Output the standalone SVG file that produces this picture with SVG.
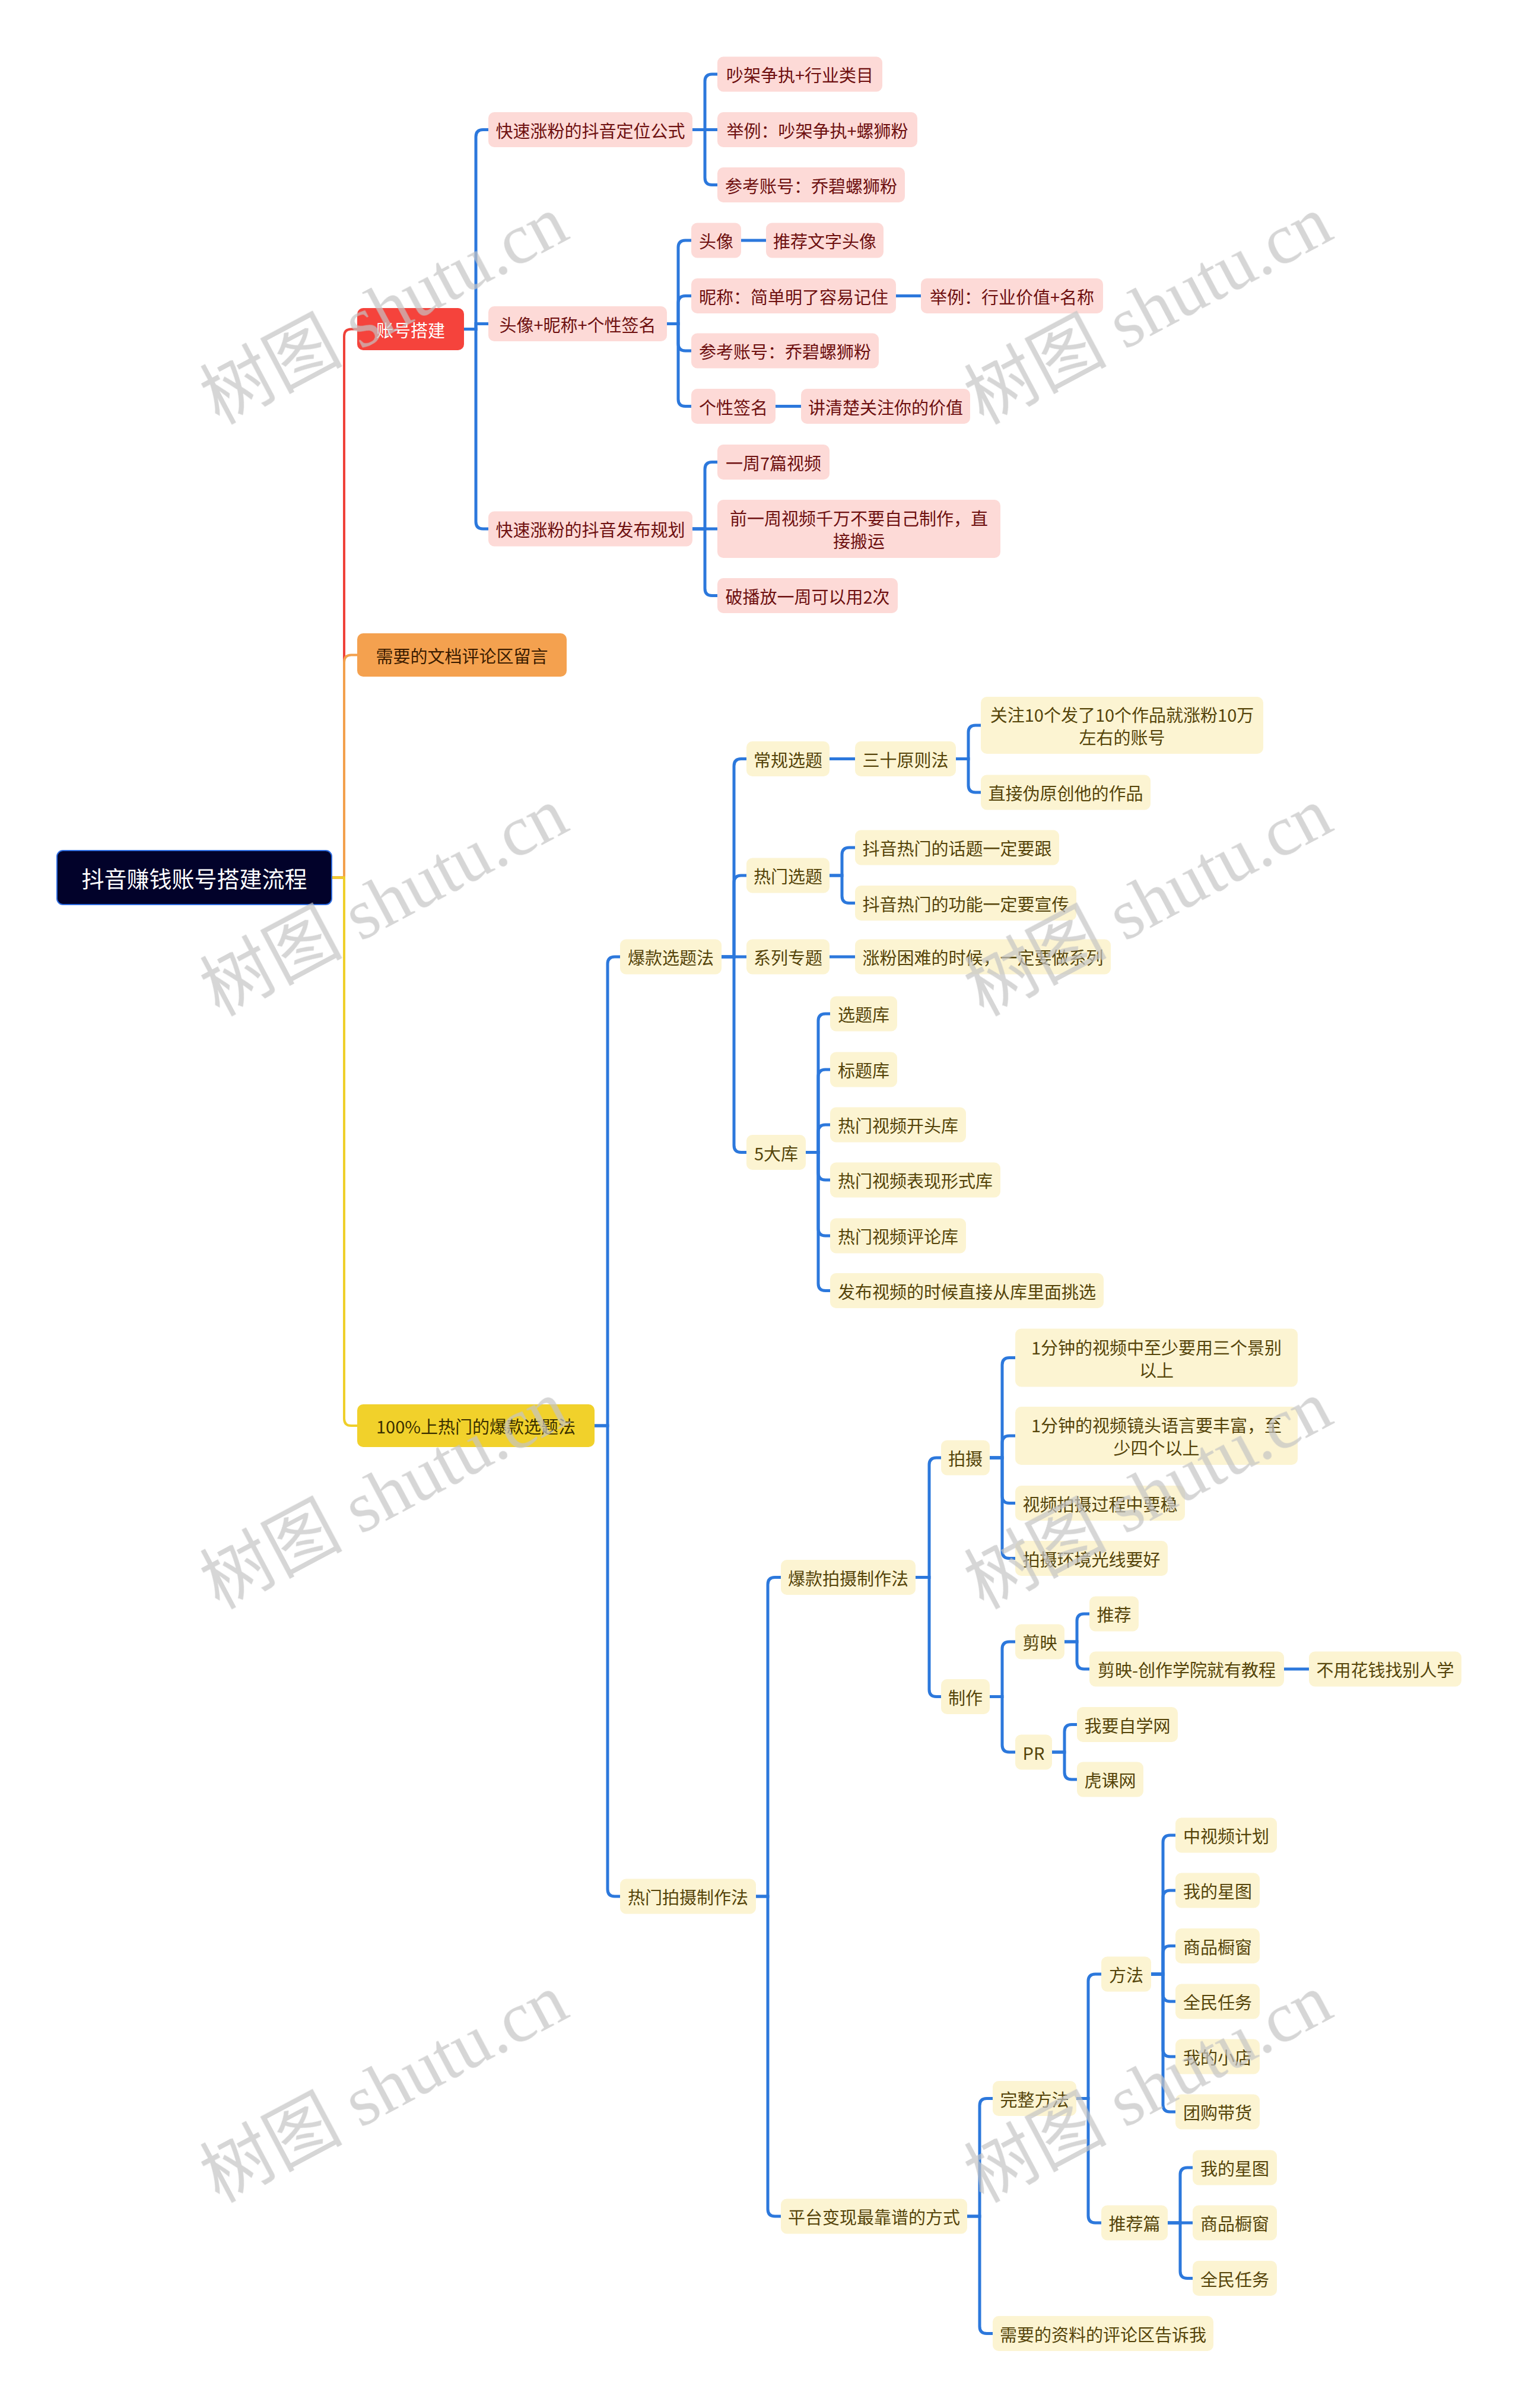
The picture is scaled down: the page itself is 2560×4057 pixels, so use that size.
<svg xmlns="http://www.w3.org/2000/svg" width="2560" height="4057" viewBox="0 0 2560 4057">
<style>
text{font-family:"Noto Sans CJK SC","Noto Sans",sans-serif;font-size:29px;text-anchor:middle;dominant-baseline:central}
.pk rect{fill:#fddad7}
.pk text{fill:#6e1010}
.yl rect{fill:#fcf4d2}
.yl text{fill:#55440a}
.ln path{fill:none;stroke:#2c78dc;stroke-width:5}
.tr{fill:none;stroke-width:4}
.wm{font-family:"Liberation Serif","Noto Sans CJK SC",serif;font-size:120px;fill:#c4c4c4;text-anchor:middle;dominant-baseline:central}
</style>
<rect width="2560" height="4057" fill="#ffffff"/>
<g id="connectors">
<path class="tr" stroke="#ef4139" d="M559 1478.5 H580 V566.5 Q580 554.5 592 554.5 H602"/>
<path class="tr" stroke="#f3a04c" d="M559 1478.5 H580 V1115.5 Q580 1103.5 592 1103.5 H602"/>
<path class="tr" stroke="#efcf2a" d="M559 1478.5 H580 V2390 Q580 2402 592 2402 H602"/>
<g class="ln">
<path d="M782 554.5 H802 V230.5 Q802 218.5 814 218.5 H823"/>
<path d="M782 554.5 H802 V545.5 H823"/>
<path d="M782 554.5 H802 V879 Q802 891 814 891 H823"/>
<path d="M1167 218.5 H1188 V137 Q1188 125 1200 125 H1209"/>
<path d="M1167 218.5 H1209"/>
<path d="M1167 218.5 H1188 V299.5 Q1188 311.5 1200 311.5 H1209"/>
<path d="M1124 545.5 H1143 V417 Q1143 405 1155 405 H1165"/>
<path d="M1124 545.5 H1143 V510.5 Q1143 498.5 1155 498.5 H1165"/>
<path d="M1124 545.5 H1143 V579 Q1143 591 1155 591 H1165"/>
<path d="M1124 545.5 H1143 V672.5 Q1143 684.5 1155 684.5 H1165"/>
<path d="M1249 405 H1291"/>
<path d="M1510 498.5 H1552"/>
<path d="M1307 684.5 H1350"/>
<path d="M1167 891 H1188 V790.5 Q1188 778.5 1200 778.5 H1209"/>
<path d="M1167 891 H1209"/>
<path d="M1167 891 H1188 V991.5 Q1188 1003.5 1200 1003.5 H1209"/>
<path d="M1002 2402 H1024 V1624 Q1024 1612 1036 1612 H1045"/>
<path d="M1002 2402 H1024 V3183 Q1024 3195 1036 3195 H1045"/>
<path d="M1216 1612 H1237 V1290.5 Q1237 1278.5 1249 1278.5 H1258"/>
<path d="M1216 1612 H1237 V1487 Q1237 1475 1249 1475 H1258"/>
<path d="M1216 1612 H1258"/>
<path d="M1216 1612 H1237 V1929.5 Q1237 1941.5 1249 1941.5 H1258"/>
<path d="M1398 1278.5 H1441"/>
<path d="M1611 1278.5 H1632 V1234 Q1632 1222 1644 1222 H1653"/>
<path d="M1611 1278.5 H1632 V1323 Q1632 1335 1644 1335 H1653"/>
<path d="M1398 1475 H1419 V1440 Q1419 1428 1431 1428 H1441"/>
<path d="M1398 1475 H1419 V1509.5 Q1419 1521.5 1431 1521.5 H1441"/>
<path d="M1398 1612 H1441"/>
<path d="M1358 1941.5 H1379 V1720 Q1379 1708 1391 1708 H1399"/>
<path d="M1358 1941.5 H1379 V1814 Q1379 1802 1391 1802 H1399"/>
<path d="M1358 1941.5 H1379 V1907 Q1379 1895 1391 1895 H1399"/>
<path d="M1358 1941.5 H1379 V1976 Q1379 1988 1391 1988 H1399"/>
<path d="M1358 1941.5 H1379 V2070 Q1379 2082 1391 2082 H1399"/>
<path d="M1358 1941.5 H1379 V2162.5 Q1379 2174.5 1391 2174.5 H1399"/>
<path d="M1274 3195 H1294 V2669.5 Q1294 2657.5 1306 2657.5 H1316"/>
<path d="M1274 3195 H1294 V3722 Q1294 3734 1306 3734 H1316"/>
<path d="M1543 2657.5 H1566 V2468 Q1566 2456 1578 2456 H1586"/>
<path d="M1543 2657.5 H1566 V2846.5 Q1566 2858.5 1578 2858.5 H1586"/>
<path d="M1668 2456 H1689 V2299.5 Q1689 2287.5 1701 2287.5 H1711"/>
<path d="M1668 2456 H1689 V2431 Q1689 2419 1701 2419 H1711"/>
<path d="M1668 2456 H1689 V2520.5 Q1689 2532.5 1701 2532.5 H1711"/>
<path d="M1668 2456 H1689 V2613.5 Q1689 2625.5 1701 2625.5 H1711"/>
<path d="M1668 2858.5 H1689 V2778 Q1689 2766 1701 2766 H1711"/>
<path d="M1668 2858.5 H1689 V2940 Q1689 2952 1701 2952 H1711"/>
<path d="M1794 2766 H1815 V2731 Q1815 2719 1827 2719 H1836"/>
<path d="M1794 2766 H1815 V2800 Q1815 2812 1827 2812 H1836"/>
<path d="M2164 2812 H2206"/>
<path d="M1773 2952 H1794 V2917.5 Q1794 2905.5 1806 2905.5 H1815"/>
<path d="M1773 2952 H1794 V2986 Q1794 2998 1806 2998 H1815"/>
<path d="M1630 3734 H1651 V3547.5 Q1651 3535.5 1663 3535.5 H1673"/>
<path d="M1630 3734 H1651 V3919.5 Q1651 3931.5 1663 3931.5 H1673"/>
<path d="M1814 3535.5 H1834 V3338 Q1834 3326 1846 3326 H1856"/>
<path d="M1814 3535.5 H1834 V3733 Q1834 3745 1846 3745 H1856"/>
<path d="M1940 3326 H1960 V3104 Q1960 3092 1972 3092 H1981"/>
<path d="M1940 3326 H1960 V3197 Q1960 3185 1972 3185 H1981"/>
<path d="M1940 3326 H1960 V3290.5 Q1960 3278.5 1972 3278.5 H1981"/>
<path d="M1940 3326 H1960 V3360 Q1960 3372 1972 3372 H1981"/>
<path d="M1940 3326 H1960 V3453 Q1960 3465 1972 3465 H1981"/>
<path d="M1940 3326 H1960 V3546 Q1960 3558 1972 3558 H1981"/>
<path d="M1968 3745 H1989 V3664 Q1989 3652 2001 3652 H2010"/>
<path d="M1968 3745 H2010"/>
<path d="M1968 3745 H1989 V3826.5 Q1989 3838.5 2001 3838.5 H2010"/>
</g>
</g>

<g id="root"><rect x="96" y="1433" width="463" height="91" rx="10" fill="#02022a" stroke="#2d6be0" stroke-width="2"/><text x="327.5" y="1478.5" style="font-size:38px;fill:#ffffff">抖音赚钱账号搭建流程</text></g>

<g id="n-zhanghao"><rect x="602" y="519" width="180" height="71" rx="10" fill="#f5433c"/><text x="692" y="554.5" fill="#ffffff">账号搭建</text></g>
<g id="n-wendang"><rect x="602" y="1067" width="353" height="73" rx="10" fill="#f4a14f"/><text x="778.5" y="1103.5" fill="#3a1c00">需要的文档评论区留言</text></g>
<g id="n-baokuan"><rect x="602" y="2366" width="400" height="72" rx="10" fill="#f1d12b"/><text x="802" y="2402" fill="#3b3000">100%上热门的爆款选题法</text></g>

<g class="pk">
<g id="n-a1"><rect x="823" y="189" width="344" height="59" rx="10"/><text x="995" y="218.5">快速涨粉的抖音定位公式</text></g>
<g id="n-a1a"><rect x="1209" y="95.5" width="278" height="59" rx="10"/><text x="1348" y="125">吵架争执+行业类目</text></g>
<g id="n-a1b"><rect x="1209" y="189" width="337" height="59" rx="10"/><text x="1377.5" y="218.5">举例：吵架争执+螺狮粉</text></g>
<g id="n-a1c"><rect x="1209" y="282" width="316" height="59" rx="10"/><text x="1367" y="311.5">参考账号：乔碧螺狮粉</text></g>
<g id="n-a2"><rect x="823" y="516" width="301" height="59" rx="10"/><text x="973.5" y="545.5">头像+昵称+个性签名</text></g>
<g id="n-a2a"><rect x="1165" y="375.5" width="84" height="59" rx="10"/><text x="1207" y="405">头像</text></g>
<g id="n-a2a1"><rect x="1291" y="375.5" width="198" height="59" rx="10"/><text x="1390" y="405">推荐文字头像</text></g>
<g id="n-a2b"><rect x="1165" y="469" width="345" height="59" rx="10"/><text x="1337.5" y="498.5">昵称：简单明了容易记住</text></g>
<g id="n-a2b1"><rect x="1552" y="469" width="307" height="59" rx="10"/><text x="1705.5" y="498.5">举例：行业价值+名称</text></g>
<g id="n-a2c"><rect x="1165" y="561.5" width="316" height="59" rx="10"/><text x="1323" y="591">参考账号：乔碧螺狮粉</text></g>
<g id="n-a2d"><rect x="1165" y="655" width="142" height="59" rx="10"/><text x="1236" y="684.5">个性签名</text></g>
<g id="n-a2d1"><rect x="1350" y="655" width="285" height="59" rx="10"/><text x="1492.5" y="684.5">讲清楚关注你的价值</text></g>
<g id="n-a3"><rect x="823" y="861.5" width="344" height="59" rx="10"/><text x="995" y="891">快速涨粉的抖音发布规划</text></g>
<g id="n-a3a"><rect x="1209" y="749" width="189" height="59" rx="10"/><text x="1303.5" y="778.5">一周7篇视频</text></g>
<g id="n-a3b"><rect x="1209" y="842" width="477" height="98" rx="10"/><text x="1447.5" y="872">前一周视频千万不要自己制作，直</text><text x="1447.5" y="910">接搬运</text></g>
<g id="n-a3c"><rect x="1209" y="974" width="304" height="59" rx="10"/><text x="1361" y="1003.5">破播放一周可以用2次</text></g>
</g>

<g class="yl">
<g id="n-c1"><rect x="1045" y="1582.5" width="171" height="59" rx="10"/><text x="1130.5" y="1612">爆款选题法</text></g>
<g id="n-c1a"><rect x="1258" y="1249" width="140" height="59" rx="10"/><text x="1328" y="1278.5">常规选题</text></g>
<g id="n-c1a1"><rect x="1441" y="1249" width="170" height="59" rx="10"/><text x="1526" y="1278.5">三十原则法</text></g>
<g id="n-c1a1a"><rect x="1653" y="1174" width="476" height="96" rx="10"/><text x="1891" y="1203">关注10个发了10个作品就涨粉10万</text><text x="1891" y="1241">左右的账号</text></g>
<g id="n-c1a1b"><rect x="1653" y="1305.5" width="286" height="59" rx="10"/><text x="1796" y="1335">直接伪原创他的作品</text></g>
<g id="n-c1b"><rect x="1258" y="1445.5" width="140" height="59" rx="10"/><text x="1328" y="1475">热门选题</text></g>
<g id="n-c1b1"><rect x="1441" y="1398.5" width="344" height="59" rx="10"/><text x="1613" y="1428">抖音热门的话题一定要跟</text></g>
<g id="n-c1b2"><rect x="1441" y="1492" width="373" height="59" rx="10"/><text x="1627.5" y="1521.5">抖音热门的功能一定要宣传</text></g>
<g id="n-c1c"><rect x="1258" y="1582.5" width="140" height="59" rx="10"/><text x="1328" y="1612">系列专题</text></g>
<g id="n-c1c1"><rect x="1441" y="1582.5" width="431" height="59" rx="10"/><text x="1656.5" y="1612">涨粉困难的时候，一定要做系列</text></g>
<g id="n-c1d"><rect x="1258" y="1912" width="100" height="59" rx="10"/><text x="1308" y="1941.5">5大库</text></g>
<g id="n-c1d1"><rect x="1399" y="1678.5" width="113" height="59" rx="10"/><text x="1455.5" y="1708">选题库</text></g>
<g id="n-c1d2"><rect x="1399" y="1772.5" width="113" height="59" rx="10"/><text x="1455.5" y="1802">标题库</text></g>
<g id="n-c1d3"><rect x="1399" y="1865.5" width="229" height="59" rx="10"/><text x="1513.5" y="1895">热门视频开头库</text></g>
<g id="n-c1d4"><rect x="1399" y="1958.5" width="287" height="59" rx="10"/><text x="1542.5" y="1988">热门视频表现形式库</text></g>
<g id="n-c1d5"><rect x="1399" y="2052.5" width="229" height="59" rx="10"/><text x="1513.5" y="2082">热门视频评论库</text></g>
<g id="n-c1d6"><rect x="1399" y="2145" width="461" height="59" rx="10"/><text x="1629.5" y="2174.5">发布视频的时候直接从库里面挑选</text></g>

<g id="n-c2"><rect x="1045" y="3165.5" width="229" height="59" rx="10"/><text x="1159.5" y="3195">热门拍摄制作法</text></g>
<g id="n-c2a"><rect x="1316" y="2628" width="227" height="59" rx="10"/><text x="1429.5" y="2657.5">爆款拍摄制作法</text></g>
<g id="n-ps"><rect x="1586" y="2426.5" width="82" height="59" rx="10"/><text x="1627" y="2456">拍摄</text></g>
<g id="n-ps1"><rect x="1711" y="2238.5" width="476" height="98" rx="10"/><text x="1949" y="2268.5">1分钟的视频中至少要用三个景别</text><text x="1949" y="2306.5">以上</text></g>
<g id="n-ps2"><rect x="1711" y="2370" width="476" height="98" rx="10"/><text x="1949" y="2400">1分钟的视频镜头语言要丰富，至</text><text x="1949" y="2438">少四个以上</text></g>
<g id="n-ps3"><rect x="1711" y="2503" width="286" height="59" rx="10"/><text x="1854" y="2532.5">视频拍摄过程中要稳</text></g>
<g id="n-ps4"><rect x="1711" y="2596" width="257" height="59" rx="10"/><text x="1839.5" y="2625.5">拍摄环境光线要好</text></g>
<g id="n-zz"><rect x="1586" y="2829" width="82" height="59" rx="10"/><text x="1627" y="2858.5">制作</text></g>
<g id="n-jy"><rect x="1711" y="2736.5" width="83" height="59" rx="10"/><text x="1752.5" y="2766">剪映</text></g>
<g id="n-jy1"><rect x="1836" y="2689.5" width="83" height="59" rx="10"/><text x="1877.5" y="2719">推荐</text></g>
<g id="n-jy2"><rect x="1836" y="2782.5" width="328" height="59" rx="10"/><text x="2000" y="2812">剪映-创作学院就有教程</text></g>
<g id="n-jy2a"><rect x="2206" y="2782.5" width="257" height="59" rx="10"/><text x="2334.5" y="2812">不用花钱找别人学</text></g>
<g id="n-pr"><rect x="1711" y="2922.5" width="62" height="59" rx="10"/><text x="1742" y="2952">PR</text></g>
<g id="n-pr1"><rect x="1815" y="2876" width="170" height="59" rx="10"/><text x="1900" y="2905.5">我要自学网</text></g>
<g id="n-pr2"><rect x="1815" y="2968.5" width="112" height="59" rx="10"/><text x="1871" y="2998">虎课网</text></g>

<g id="n-c2b"><rect x="1316" y="3704.5" width="314" height="59" rx="10"/><text x="1473" y="3734">平台变现最靠谱的方式</text></g>
<g id="n-wz"><rect x="1673" y="3506" width="141" height="59" rx="10"/><text x="1743.5" y="3535.5">完整方法</text></g>
<g id="n-ff"><rect x="1856" y="3296.5" width="84" height="59" rx="10"/><text x="1898" y="3326">方法</text></g>
<g id="n-ff1"><rect x="1981" y="3062.5" width="171" height="59" rx="10"/><text x="2066.5" y="3092">中视频计划</text></g>
<g id="n-ff2"><rect x="1981" y="3155.5" width="142" height="59" rx="10"/><text x="2052" y="3185">我的星图</text></g>
<g id="n-ff3"><rect x="1981" y="3249" width="142" height="59" rx="10"/><text x="2052" y="3278.5">商品橱窗</text></g>
<g id="n-ff4"><rect x="1981" y="3342.5" width="142" height="59" rx="10"/><text x="2052" y="3372">全民任务</text></g>
<g id="n-ff5"><rect x="1981" y="3435.5" width="142" height="59" rx="10"/><text x="2052" y="3465">我的小店</text></g>
<g id="n-ff6"><rect x="1981" y="3528.5" width="142" height="59" rx="10"/><text x="2052" y="3558">团购带货</text></g>
<g id="n-tj"><rect x="1856" y="3715.5" width="112" height="59" rx="10"/><text x="1912" y="3745">推荐篇</text></g>
<g id="n-tj1"><rect x="2010" y="3622.5" width="142" height="59" rx="10"/><text x="2081" y="3652">我的星图</text></g>
<g id="n-tj2"><rect x="2010" y="3715.5" width="142" height="59" rx="10"/><text x="2081" y="3745">商品橱窗</text></g>
<g id="n-tj3"><rect x="2010" y="3809" width="142" height="59" rx="10"/><text x="2081" y="3838.5">全民任务</text></g>
<g id="n-zl"><rect x="1673" y="3902" width="372" height="59" rx="10"/><text x="1859" y="3931.5">需要的资料的评论区告诉我</text></g>
</g>

<g id="watermarks" opacity="0.7">
<text class="wm" x="647" y="522" transform="rotate(-28 647 522)">树图 shutu.cn</text>
<text class="wm" x="1935" y="522" transform="rotate(-28 1935 522)">树图 shutu.cn</text>
<text class="wm" x="647" y="1519" transform="rotate(-28 647 1519)">树图 shutu.cn</text>
<text class="wm" x="1935" y="1519" transform="rotate(-28 1935 1519)">树图 shutu.cn</text>
<text class="wm" x="647" y="2518" transform="rotate(-28 647 2518)">树图 shutu.cn</text>
<text class="wm" x="1935" y="2518" transform="rotate(-28 1935 2518)">树图 shutu.cn</text>
<text class="wm" x="647" y="3518" transform="rotate(-28 647 3518)">树图 shutu.cn</text>
<text class="wm" x="1935" y="3518" transform="rotate(-28 1935 3518)">树图 shutu.cn</text>
</g>
</svg>
